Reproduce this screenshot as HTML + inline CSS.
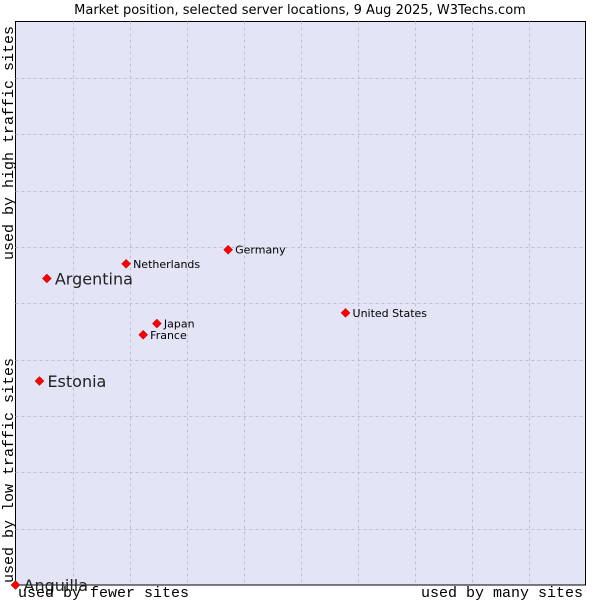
<!DOCTYPE html>
<html><head><meta charset="utf-8"><style>
body{margin:0;background:#fff;width:600px;height:600px;overflow:hidden}
svg{display:block}
</style></head><body>
<svg width="600" height="600" xmlns="http://www.w3.org/2000/svg">
<text x="300" y="14" text-anchor="middle" font-family="DejaVu Sans, sans-serif" font-size="13" fill="#000">Market position, selected server locations, 9 Aug 2025, W3Techs.com</text>
<rect x="15.5" y="21.5" width="570" height="563.5" fill="#e3e5f7" stroke="#000" stroke-width="1"/>
<g id="grid"></g>
<g id="points"></g>
<text transform="translate(13,260) rotate(-90)" font-family="Liberation Mono, monospace" font-size="15" fill="#000">used by high traffic sites</text>
<text transform="translate(13,583) rotate(-90)" font-family="Liberation Mono, monospace" font-size="15" fill="#000">used by low traffic sites</text>
<text x="18" y="597" font-family="Liberation Mono, monospace" font-size="15" fill="#000">used by fewer sites</text>
<text x="583" y="597" text-anchor="end" font-family="Liberation Mono, monospace" font-size="15" fill="#000">used by many sites</text>
</svg>
<script>
const names=["Anguilla","Estonia","Argentina","Netherlands","Germany","Japan","France","United States"];
const xVals=[0,4.2,5.5,19.4,37.3,24.8,22.4,57.9];
const yVals=[0,36.2,54.4,57.0,59.5,46.4,44.4,48.3];
const bigLabel=[true,true,true,false,false,false,false,false];
const L=15.5,R=585.5,T=21.5,B=585;
const sx=v=>L+v/100*(R-L), sy=v=>B-v/100*(B-T);
const NS="http://www.w3.org/2000/svg";
const grid=document.getElementById('grid');
for(let i=1;i<10;i++){
  const x=Math.round(sx(i*10))+0.5,y=Math.round(sy(i*10))+0.5;
  const lv=document.createElementNS(NS,'line');
  lv.setAttribute('x1',x);lv.setAttribute('x2',x);lv.setAttribute('y1',T);lv.setAttribute('y2',B);
  lv.setAttribute('stroke','#c0c0c8');lv.setAttribute('stroke-dasharray','3,3');
  
  
  grid.appendChild(lv);
  const lh=document.createElementNS(NS,'line');
  lh.setAttribute('x1',L);lh.setAttribute('x2',R);lh.setAttribute('y1',y);lh.setAttribute('y2',y);
  lh.setAttribute('stroke','#c0c0c8');lh.setAttribute('stroke-dasharray','3,3');
  
  
  grid.appendChild(lh);
}
const pts=document.getElementById('points');
names.forEach((n,i)=>{
  const x=sx(xVals[i]),y=sy(yVals[i]);
  const d=document.createElementNS(NS,'polygon');
  d.setAttribute('points',`${x},${y-4.5} ${x+4.5},${y} ${x},${y+4.5} ${x-4.5},${y}`);
  d.setAttribute('fill','#f00');d.setAttribute('stroke','#a00');d.setAttribute('stroke-width','0.5');
  
  
  pts.appendChild(d);
  const t=document.createElementNS(NS,'text');
  const big=bigLabel[i];
  t.setAttribute('x',x+(big?8:7));t.setAttribute('y',y+(big?6:4));
  t.setAttribute('font-family','DejaVu Sans, sans-serif');
  t.setAttribute('font-size',big?'16':'11');
  t.setAttribute('fill',big?'#222':'#000');
  t.textContent=n;
  
  
  pts.appendChild(t);
});
</script>
</body></html>
